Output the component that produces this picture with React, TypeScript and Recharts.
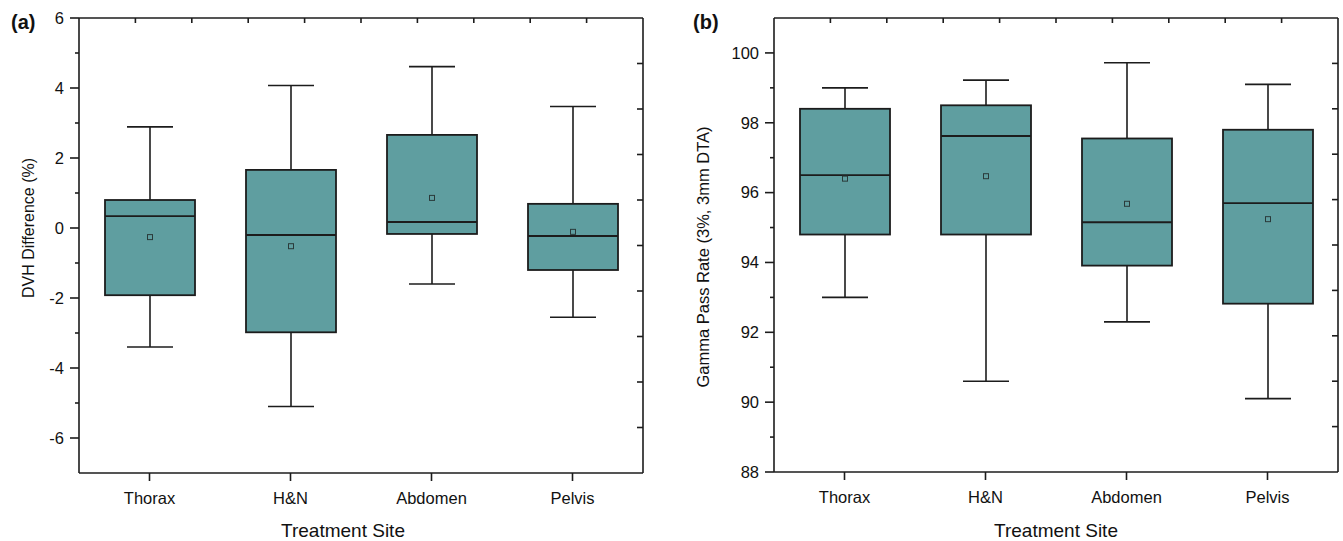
import React from 'react';
import { ComposedChart, Bar, XAxis, YAxis } from 'recharts';

const sites = ['Thorax', 'H&N', 'Abdomen', 'Pelvis'];

// panel (a) DVH difference (%)
const dvhMin = [-3.4, -5.1, -1.6, -2.55];
const dvhQ1 = [-1.92, -2.98, -0.17, -1.2];
const dvhMedian = [0.34, -0.2, 0.17, -0.23];
const dvhQ3 = [0.8, 1.66, 2.66, 0.69];
const dvhMax = [2.89, 4.07, 4.61, 3.47];
const dvhMean = [-0.26, -0.52, 0.86, -0.11];

// panel (b) gamma pass rate
const gammaMin = [93.0, 90.6, 92.3, 90.1];
const gammaQ1 = [94.8, 94.8, 93.91, 92.82];
const gammaMedian = [96.5, 97.62, 95.15, 95.7];
const gammaQ3 = [98.4, 98.5, 97.55, 97.8];
const gammaMax = [99.0, 99.22, 99.72, 99.1];
const gammaMean = [96.4, 96.47, 95.68, 95.24];

// major (labelled) and minor ticks
const dvhTicks = [-6, -5, -4, -3, -2, -1, 0, 1, 2, 3, 4, 5, 6];
const gammaTicks = [88, 89, 90, 91, 92, 93, 94, 95, 96, 97, 98, 99, 100];
// unlabelled frame ticks on the top and right edges
const frameTicks = [1, 2, 3, 4, 5, 6, 7, 8, 9];

const FILL = '#5F9EA0';
const INK = '#1c1c1c';
const FONT = '"Liberation Sans", Arial, sans-serif';

const build = (mn: number[], q1: number[], md: number[], q3: number[], mx: number[], mean: number[]) =>
  sites.map((site, i) => ({ site, min: mn[i], q1: q1[i], median: md[i], q3: q3[i], max: mx[i], mean: mean[i] }));

const dvhData = build(dvhMin, dvhQ1, dvhMedian, dvhQ3, dvhMax, dvhMean);
const gammaData = build(gammaMin, gammaQ1, gammaMedian, gammaQ3, gammaMax, gammaMean);

// bar spans [min, max]; the rest is placed on the same scale inside it
const BoxShape = (props: any) => {
  const { x, y, width, height, payload } = props;
  const top = Math.min(y, y + height);
  const h = Math.abs(height);
  const { min, max, q1, q3, median, mean } = payload;
  const ppu = h / (max - min);
  const yOf = (v: number) => top + (max - v) * ppu;
  const cx = x + width / 2;
  const cap = 23;
  return (
    <g>
      <line x1={cx} x2={cx} y1={yOf(max)} y2={yOf(q3)} stroke={INK} strokeWidth={1.6} />
      <line x1={cx} x2={cx} y1={yOf(q1)} y2={yOf(min)} stroke={INK} strokeWidth={1.6} />
      <line x1={cx - cap} x2={cx + cap} y1={yOf(max)} y2={yOf(max)} stroke={INK} strokeWidth={1.6} />
      <line x1={cx - cap} x2={cx + cap} y1={yOf(min)} y2={yOf(min)} stroke={INK} strokeWidth={1.6} />
      <rect x={x} y={yOf(q3)} width={width} height={yOf(q1) - yOf(q3)} fill={FILL} stroke={INK} strokeWidth={1.8} />
      <line x1={x} x2={x + width} y1={yOf(median)} y2={yOf(median)} stroke={INK} strokeWidth={1.9} />
      <rect x={cx - 2.5} y={yOf(mean) - 2.5} width={5} height={5} fill="none" stroke="#2a3a3a" strokeWidth={1} />
    </g>
  );
};

const axisLine = { stroke: INK, strokeWidth: 1.6 };
const tickLine = { stroke: INK, strokeWidth: 1.6 };
const tickStyle = { fill: '#111', fontSize: 16.5, fontFamily: FONT };
const NoLabel = () => <g />;

const Y_TICK = 9;
const Y_MARGIN = 6;

// even values: long tick + label; odd values: short tick
const YTick = (props: any) => {
  const { x, y, payload } = props;
  const v = payload.value;
  const edge = x + Y_MARGIN + Y_TICK;
  const major = Math.abs(v % 2) === 0;
  return (
    <g>
      <line x1={edge - (major ? Y_TICK : 4)} x2={edge} y1={y} y2={y} stroke={INK} strokeWidth={1.6} />
      {major && (
        <text x={x} y={y} dy="0.355em" textAnchor="end" fill="#111" fontSize={16.5} fontFamily={FONT}>{v}</text>
      )}
    </g>
  );
};

interface PanelProps {
  data: any[];
  domain: [number, number];
  ticks: number[];
  width: number;
  yWidth: number;
  right: number;
  xHeight: number;
}

const Panel: React.FC<PanelProps> = ({ data, domain, ticks, width, yWidth, right, xHeight }) => (
  <ComposedChart width={width} height={541} data={data} margin={{ top: 18, right, bottom: 0, left: 0 }}>
    <XAxis xAxisId="main" dataKey="site" tick={tickStyle} tickSize={8} tickMargin={11}
      height={xHeight} axisLine={axisLine} tickLine={tickLine} interval={0} />
    <XAxis xAxisId="top" orientation="top" dataKey="site" mirror tick={NoLabel} tickLine={false}
      height={1} axisLine={axisLine} />
    <YAxis yAxisId="main" type="number" domain={domain} ticks={ticks} interval={0} tick={YTick}
      tickSize={Y_TICK} tickMargin={Y_MARGIN} width={yWidth} axisLine={axisLine} tickLine={false} />
    <YAxis yAxisId="right" orientation="right" type="number" domain={[0, 10]} ticks={frameTicks} interval={0}
      allowDataOverflow mirror tick={NoLabel} tickSize={6} width={1} axisLine={axisLine} tickLine={tickLine} />
    <Bar xAxisId="main" yAxisId="main" dataKey={(d: any) => [d.min, d.max]} barSize={90}
      shape={BoxShape} isAnimationActive={false} />
  </ComposedChart>
);

// top-edge frame ticks: a numeric top axis needs a vertical layout, so it sits in an overlay
const TopTicks: React.FC<PanelProps> = ({ data, width, yWidth, right, xHeight }) => (
  <ComposedChart layout="vertical" width={width} height={541} data={data}
    margin={{ top: 18, right, bottom: xHeight, left: yWidth }}>
    <XAxis type="number" orientation="top" domain={[0, 10]} ticks={frameTicks} interval={0}
      allowDataOverflow mirror tick={NoLabel} tickSize={5} height={1} axisLine={false} tickLine={tickLine} />
    <YAxis type="category" dataKey="site" hide />
  </ComposedChart>
);

const textBase: React.CSSProperties = { position: 'absolute', fontFamily: FONT, color: '#111', whiteSpace: 'nowrap' };
const layer = (left: number): React.CSSProperties => ({ position: 'absolute', left, top: 0, pointerEvents: 'none' });

const panelA: PanelProps = { data: dvhData, domain: [-7, 6], ticks: dvhTicks, width: 660, yWidth: 79, right: 17, xHeight: 68 };
const panelB: PanelProps = { data: gammaData, domain: [88, 101], ticks: gammaTicks, width: 683, yWidth: 114, right: 5, xHeight: 69 };

const App: React.FC = () => (
  <div style={{ position: 'absolute', left: 0, top: 0, width: 1343, height: 541, background: '#fff' }}>
    <div style={layer(0)}><Panel {...panelA} /></div>
    <div style={layer(0)}><TopTicks {...panelA} /></div>
    <div style={layer(660)}><Panel {...panelB} /></div>
    <div style={layer(660)}><TopTicks {...panelB} /></div>

    <div style={{ ...textBase, left: 11, top: 22, fontSize: 20, fontWeight: 'bold', transform: 'translateY(-50%)' }}>(a)</div>
    <div style={{ ...textBase, left: 693, top: 22, fontSize: 20, fontWeight: 'bold', transform: 'translateY(-50%)' }}>(b)</div>

    <div style={{ ...textBase, left: 29, top: 228, fontSize: 16, transform: 'translate(-50%, -50%) rotate(-90deg)' }}>
      DVH Difference (%)
    </div>
    <div style={{ ...textBase, left: 703, top: 257, fontSize: 16.5, transform: 'translate(-50%, -50%) rotate(-90deg)' }}>
      Gamma Pass Rate (3%, 3mm DTA)
    </div>

    <div style={{ ...textBase, left: 343, top: 531, fontSize: 19, transform: 'translate(-50%, -50%)' }}>
      Treatment Site
    </div>
    <div style={{ ...textBase, left: 1056, top: 531, fontSize: 19, transform: 'translate(-50%, -50%)' }}>
      Treatment Site
    </div>
  </div>
);

export default App;
